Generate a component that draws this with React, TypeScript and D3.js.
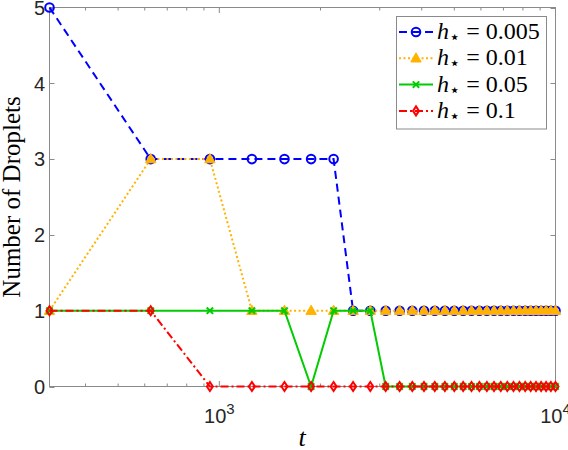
import React from "react";
import * as d3 from "d3";

// time samples (x)
const times = [
  312.5, 625, 937.5, 1250, 1562.5, 1875, 2187.5, 2500, 2812.5, 3125,
  3437.5, 3750, 4062.5, 4375, 4687.5, 5000, 5312.5, 5625, 5937.5, 6250,
  6562.5, 6875, 7187.5, 7500, 7812.5, 8125, 8437.5, 8750, 9062.5, 9375,
  9687.5, 10000,
];
const droplets005 = [5, 3, 3, 3, 3, 3, 3, 1, 1, 1, 1, 1, 1, 1, 1, 1, 1, 1, 1, 1, 1, 1, 1, 1, 1, 1, 1, 1, 1, 1, 1, 1];
const droplets01 = [1, 3, 3, 1, 1, 1, 1, 1, 1, 1, 1, 1, 1, 1, 1, 1, 1, 1, 1, 1, 1, 1, 1, 1, 1, 1, 1, 1, 1, 1, 1, 1];
const droplets05 = [1, 1, 1, 1, 1, 0, 1, 1, 1, 0, 0, 0, 0, 0, 0, 0, 0, 0, 0, 0, 0, 0, 0, 0, 0, 0, 0, 0, 0, 0, 0, 0];
const droplets1 = [1, 1, 0, 0, 0, 0, 0, 0, 0, 0, 0, 0, 0, 0, 0, 0, 0, 0, 0, 0, 0, 0, 0, 0, 0, 0, 0, 0, 0, 0, 0, 0];
const legendLabels = ["0.005", "0.01", "0.05", "0.1"];
const yTicks = [0, 1, 2, 3, 4, 5];
const xMajorTicks = [1000, 10000];
const xMinorTicks = [400, 500, 600, 700, 800, 900, 2000, 3000, 4000, 5000, 6000, 7000, 8000, 9000];

const L = 49.5, R = 555.5, T = 7.5, B = 386.5;
const axisColor = "#8a8a8a";
const textColor = "#262626";

type Marker = "circle" | "triangle" | "x" | "diamond";
const seriesDefs: { values: number[]; color: string; dash: string; marker: Marker }[] = [
  { values: droplets005, color: "#0000ff", dash: "8 5", marker: "circle" },
  { values: droplets01, color: "#ffb300", dash: "2 2.5", marker: "triangle" },
  { values: droplets05, color: "#00cc00", dash: "", marker: "x" },
  { values: droplets1, color: "#ff0000", dash: "8 3 2 3", marker: "diamond" },
];

function MarkerShape({ kind, x, y, color }: { kind: Marker; x: number; y: number; color: string }) {
  if (kind === "circle")
    return <circle cx={x} cy={y} r={4.3} fill="none" stroke={color} strokeWidth={2} />;
  if (kind === "triangle")
    return (
      <path
        d={`M${x},${y - 5.5}L${x + 5.2},${y + 3.7}L${x - 5.2},${y + 3.7}Z`}
        fill={color}
        stroke={color}
        strokeWidth={1}
        strokeLinejoin="round"
      />
    );
  if (kind === "x")
    return (
      <path
        d={`M${x - 3.2},${y - 3.2}L${x + 3.2},${y + 3.2}M${x - 3.2},${y + 3.2}L${x + 3.2},${y - 3.2}`}
        stroke={color}
        strokeWidth={2}
        fill="none"
      />
    );
  return (
    <path
      d={`M${x},${y - 4.5}L${x + 3},${y}L${x},${y + 4.5}L${x - 3},${y}Z`}
      fill="none"
      stroke={color}
      strokeWidth={2}
    />
  );
}

export default function App() {
  const x = d3.scaleLog().domain([312.5, 10000]).range([L, R]);
  const y = d3.scaleLinear().domain([0, 5]).range([B, T]);
  const line = d3
    .line<[number, number]>()
    .x((d) => x(d[0]))
    .y((d) => y(d[1]));

  const legX = 396.5, legY = 16.5, legW = 150, legH = 112.5;

  return (
    <div style={{ position: "absolute", left: 0, top: 0 }}>
      <svg width={568} height={450} style={{ display: "block", background: "#fff" }}>
        <rect x={0} y={0} width={568} height={450} fill="#fff" />
        {/* axes box */}
        <rect x={L} y={T} width={R - L} height={B - T} fill="none" stroke={axisColor} strokeWidth={1} />
        {/* y ticks */}
        {yTicks.map((t) => (
          <g key={"y" + t}>
            <line x1={L} x2={L + 5} y1={Math.round(y(t)) + 0.5} y2={Math.round(y(t)) + 0.5} stroke={axisColor} />
            <line x1={R} x2={R - 5} y1={Math.round(y(t)) + 0.5} y2={Math.round(y(t)) + 0.5} stroke={axisColor} />
            <text
              x={45}
              y={y(t)}
              dy="0.36em"
              textAnchor="end"
              fontFamily="Liberation Sans, Arial, sans-serif"
              fontSize={20}
              fill={textColor}
            >
              {t}
            </text>
          </g>
        ))}
        {/* x ticks */}
        {xMinorTicks.map((t) => (
          <g key={"xm" + t}>
            <line x1={x(t)} x2={x(t)} y1={B} y2={B - 3} stroke={axisColor} />
            <line x1={x(t)} x2={x(t)} y1={T} y2={T + 3} stroke={axisColor} />
          </g>
        ))}
        {xMajorTicks.map((t) => (
          <g key={"xM" + t}>
            <line x1={x(t)} x2={x(t)} y1={B} y2={B - 5.5} stroke={axisColor} />
            <line x1={x(t)} x2={x(t)} y1={T} y2={T + 5.5} stroke={axisColor} />
            <text
              x={x(t)}
              y={423}
              textAnchor="middle"
              fontFamily="Liberation Sans, Arial, sans-serif"
              fontSize={20}
              fill={textColor}
            >
              10
              <tspan fontSize={15} dy={-9}>
                {Math.round(Math.log10(t))}
              </tspan>
            </text>
          </g>
        ))}
        {/* series */}
        {seriesDefs.map((s, i) => {
          const pts = times.map((t, j) => [t, s.values[j]] as [number, number]);
          return (
            <g key={"s" + i}>
              <path
                d={line(pts) || ""}
                fill="none"
                stroke={s.color}
                strokeWidth={2}
                strokeDasharray={s.dash || undefined}
              />
              {pts.map((p, j) => (
                <MarkerShape key={j} kind={s.marker} x={x(p[0])} y={y(p[1])} color={s.color} />
              ))}
            </g>
          );
        })}
        {/* axis labels */}
        <text
          transform={`translate(20,${(T + B) / 2}) rotate(-90)`}
          textAnchor="middle"
          fontFamily="Liberation Serif, Times New Roman, serif"
          fontSize={25}
          fill="#000"
        >
          Number of Droplets
        </text>
        <text
          x={302}
          y={446}
          textAnchor="middle"
          fontFamily="Liberation Serif, Times New Roman, serif"
          fontStyle="italic"
          fontSize={26}
          fill="#000"
        >
          t
        </text>
        {/* legend */}
        <rect x={legX} y={legY} width={legW} height={legH} fill="#fff" stroke={axisColor} strokeWidth={1} />
        {seriesDefs.map((s, i) => {
          const cy = 32 + i * 26.3;
          return (
            <g key={"l" + i}>
              <line x1={399} x2={433} y1={cy} y2={cy} stroke={s.color} strokeWidth={2} strokeDasharray={s.dash || undefined} />
              <MarkerShape kind={s.marker} x={416} y={cy} color={s.color} />
              <text
                x={437}
                y={cy + 7}
                fontFamily="Liberation Serif, Times New Roman, serif"
                fontSize={24}
                fill="#000"
              >
                <tspan fontStyle="italic">h</tspan>
                <tspan fontFamily="DejaVu Sans" fontSize={18} dy={4}>
                  ⋆
                </tspan>
                <tspan dy={-4}>{" = " + legendLabels[i]}</tspan>
              </text>
            </g>
          );
        })}
      </svg>
    </div>
  );
}
